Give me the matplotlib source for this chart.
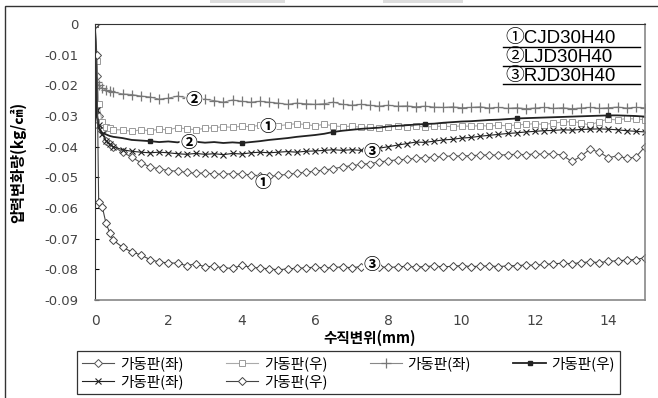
import matplotlib
matplotlib.use("Agg")
import matplotlib.pyplot as plt
from matplotlib.patches import Rectangle
from matplotlib.lines import Line2D

plt.rcParams['font.family'] = ['Noto Sans CJK KR', 'DejaVu Sans']

# ---- data ----
x_mm = [0, 0.05, 0.1, 0.2, 0.3, 0.4, 0.5, 0.75, 1.0, 1.25, 1.5, 1.75, 2.0, 2.25, 2.5, 2.75,
        3.0, 3.25, 3.5, 3.75, 4.0, 4.25, 4.5, 4.75, 5.0, 5.25, 5.5, 5.75, 6.0, 6.25, 6.5, 6.75,
        7.0, 7.25, 7.5, 7.75, 8.0, 8.25, 8.5, 8.75, 9.0, 9.25, 9.5, 9.75, 10.0, 10.25, 10.5, 10.75,
        11.0, 11.25, 11.5, 11.75, 12.0, 12.25, 12.5, 12.75, 13.0, 13.25, 13.5, 13.75, 14.0, 14.25,
        14.5, 14.75, 15.0]

# ① CJD30H40 가동판(좌)
c_left = [0, -0.017, -0.030, -0.035, -0.038, -0.039, -0.040, -0.0418, -0.0434, -0.0452, -0.0466,
          -0.0472, -0.0478, -0.0480, -0.0484, -0.0487, -0.0486, -0.0489, -0.0490, -0.0488, -0.0490,
          -0.0492, -0.0495, -0.0497, -0.0494, -0.0490, -0.0487, -0.0483, -0.0480, -0.0476, -0.0472,
          -0.0466, -0.0462, -0.0458, -0.0455, -0.0450, -0.0446, -0.0443, -0.0441, -0.0438, -0.0436,
          -0.0434, -0.0432, -0.0430, -0.0431, -0.0429, -0.0428, -0.0427, -0.0428, -0.0426, -0.0425,
          -0.0426, -0.0424, -0.0425, -0.0423, -0.0428, -0.0448, -0.0432, -0.0408, -0.0418, -0.0436,
          -0.0430, -0.0438, -0.0434, -0.0400]
# ① CJD30H40 가동판(우)
c_right = [0, -0.012, -0.026, -0.032, -0.0335, -0.0340, -0.0345, -0.0345, -0.0350, -0.0345, -0.0348,
           -0.0343, -0.0345, -0.0338, -0.0342, -0.0345, -0.0340, -0.0338, -0.0335, -0.0337, -0.0333,
           -0.0335, -0.0330, -0.0327, -0.0332, -0.0328, -0.0325, -0.0328, -0.0332, -0.0327, -0.0332,
           -0.0335, -0.0333, -0.0337, -0.0335, -0.0338, -0.0336, -0.0333, -0.0335, -0.0333, -0.0336,
           -0.0334, -0.0333, -0.0335, -0.0332, -0.0334, -0.0331, -0.0333, -0.0330, -0.0332, -0.0329,
           -0.0327, -0.0325, -0.0328, -0.0323, -0.0320, -0.0318, -0.0322, -0.0330, -0.0318, -0.0310,
           -0.0313, -0.0308, -0.0310, -0.0312]
# ② LJD30H40 가동판(좌)
l_left = [0, -0.019, -0.020, -0.021, -0.0215, -0.0220, -0.0222, -0.0228, -0.0230, -0.0235, -0.0238,
          -0.0245, -0.0242, -0.0235, -0.0240, -0.0248, -0.0245, -0.0250, -0.0255, -0.0248, -0.0252,
          -0.0255, -0.0252, -0.0255, -0.0258, -0.0262, -0.0258, -0.0260, -0.0262, -0.0260, -0.0255,
          -0.0262, -0.0265, -0.0262, -0.0265, -0.0268, -0.0265, -0.0268, -0.0267, -0.0270, -0.0268,
          -0.0271, -0.0272, -0.0270, -0.0273, -0.0272, -0.0270, -0.0274, -0.0272, -0.0275, -0.0273,
          -0.0276, -0.0274, -0.0272, -0.0275, -0.0273, -0.0276, -0.0274, -0.0272, -0.0275, -0.0273,
          -0.0271, -0.0274, -0.0272, -0.0273]
# ② LJD30H40 가동판(우)
l_right = [0, -0.030, -0.034, -0.0355, -0.0360, -0.0365, -0.0368, -0.0372, -0.0378, -0.0380, -0.0382,
           -0.0385, -0.0383, -0.0386, -0.0380, -0.0384, -0.0387, -0.0385, -0.0388, -0.0386, -0.0388,
           -0.0385, -0.0382, -0.0378, -0.0375, -0.0372, -0.0368, -0.0365, -0.0362, -0.0358, -0.0352,
           -0.0348, -0.0345, -0.0342, -0.0340, -0.0338, -0.0334, -0.0332, -0.0330, -0.0328, -0.0326,
           -0.0325, -0.0322, -0.0320, -0.0318, -0.0317, -0.0315, -0.0313, -0.0312, -0.0310, -0.0308,
           -0.0307, -0.0306, -0.0305, -0.0304, -0.0303, -0.0302, -0.0301, -0.0300, -0.0299, -0.0298,
           -0.0298, -0.0299, -0.0300, -0.0302]
# ③ RJD30H40 가동판(좌)
r_left = [0, -0.028, -0.033, -0.036, -0.038, -0.0392, -0.0400, -0.0410, -0.0415, -0.0418, -0.0420,
          -0.0418, -0.0420, -0.0423, -0.0425, -0.0422, -0.0425, -0.0423, -0.0426, -0.0422, -0.0424,
          -0.0420, -0.0418, -0.0420, -0.0418, -0.0416, -0.0418, -0.0415, -0.0414, -0.0412, -0.0410,
          -0.0412, -0.0410, -0.0412, -0.0410, -0.0405, -0.0400, -0.0395, -0.0390, -0.0385, -0.0386,
          -0.0382, -0.0378, -0.0376, -0.0372, -0.0370, -0.0366, -0.0363, -0.0360, -0.0357, -0.0355,
          -0.0352, -0.0350, -0.0348, -0.0347, -0.0345, -0.0346, -0.0344, -0.0343, -0.0342, -0.0343,
          -0.0345, -0.0348, -0.0350, -0.0352]
# ③ RJD30H40 가동판(우)
r_right = [0, -0.010, -0.058, -0.0597, -0.0650, -0.0680, -0.0705, -0.0728, -0.0743, -0.0753, -0.0768,
           -0.0776, -0.0779, -0.0780, -0.0788, -0.0782, -0.0792, -0.0790, -0.0795, -0.0797, -0.0787,
           -0.0793, -0.0796, -0.0798, -0.0802, -0.0798, -0.0797, -0.0795, -0.0793, -0.0796, -0.0794,
           -0.0792, -0.0795, -0.0791, -0.0793, -0.0791, -0.0794, -0.0792, -0.0790, -0.0793, -0.0791,
           -0.0789, -0.0792, -0.0790, -0.0788, -0.0791, -0.0790, -0.0789, -0.0791, -0.0789, -0.0788,
           -0.0786, -0.0787, -0.0784, -0.0782, -0.0780, -0.0782, -0.0778, -0.0776, -0.0778, -0.0774,
           -0.0772, -0.0770, -0.0768, -0.0762]

legend_names = ['가동판(좌)', '가동판(우)', '가동판(좌)', '가동판(우)', '가동판(좌)', '가동판(우)']
specimens = ['①CJD30H40', '②LJD30H40', '③RJD30H40']

# circled labels next to curves: (text, x, y)
curve_labels = [('②', 2.7, -0.0248), ('①', 4.72, -0.0336), ('②', 2.55, -0.0388),
                ('③', 7.55, -0.0417), ('①', 4.58, -0.0518), ('③', 7.55, -0.0785)]

# ---- figure ----
W, H = 658, 398
fig = plt.figure(figsize=(W / 100, H / 100), dpi=100)
ax = fig.add_axes([95 / W, 1 - 300 / H, 550 / W, 276 / H])

h1, = ax.plot(x_mm, c_left, color='#555555', lw=0.8, marker='D', ms=4.2, mfc='white',
              mec='#555555', mew=0.7, label=legend_names[0])
h2, = ax.plot(x_mm, c_right, color='#aaaaaa', lw=0.8, marker='s', ms=4.2, mfc='white',
              mec='#999999', mew=0.7, label=legend_names[1])
h3, = ax.plot(x_mm, l_left, color='#888888', lw=0.8, marker='+', ms=7, mec='#777777',
              mew=0.9, label=legend_names[2])
h4, = ax.plot(x_mm, l_right, color='#222222', lw=1.3, marker='s', ms=2.5, markevery=10,
              label=legend_names[3])
h5, = ax.plot(x_mm, r_left, color='#222222', lw=0.8, marker='x', ms=4, mew=0.8,
              label=legend_names[4])
h6, = ax.plot(x_mm, r_right, color='#444444', lw=0.8, marker='D', ms=4.2, mfc='white',
              mec='#444444', mew=0.7, label=legend_names[5])

for txt, lx, ly in curve_labels:
    ax.text(lx, ly, txt, fontsize=12, fontweight='bold', ha='center', va='center', zorder=10,
            bbox=dict(boxstyle='circle,pad=0.0', fc='white', ec='none'))

ax.set_xlim(0, 15)
ax.set_ylim(-0.09, 0)
ax.set_xticks([0, 2, 4, 6, 8, 10, 12, 14])
ax.set_yticks([-0.09, -0.08, -0.07, -0.06, -0.05, -0.04, -0.03, -0.02, -0.01, 0])
ax.set_yticklabels(['-0.09', '-0.08', '-0.07', '-0.06', '-0.05', '-0.04', '-0.03', '-0.02',
                    '-0.01', '0'])
ax.tick_params(axis='y', direction='in', length=3, pad=12, labelsize=9.5, labelcolor='#444444')
ax.tick_params(axis='x', length=0, pad=10, labelsize=10, labelcolor='#444444')
for lab in ax.get_xticklabels() + ax.get_yticklabels():
    lab.set_family(['DejaVu Sans'])
for side in ['left', 'top']:
    ax.spines[side].set_color('#333333')
for side in ['right', 'bottom']:
    ax.spines[side].set_color('#888888')
    ax.spines[side].set_linewidth(1.2)

ax.set_ylabel('압력변화량(kg/㎠)', fontsize=11, fontweight='bold')
ax.yaxis.set_label_coords(-(95 - 26) / 550, 0.5)
ax.set_xlabel('수직변위(mm)', fontsize=10.5, fontweight='bold')
ax.xaxis.set_label_coords(0.5, -(330 - 300) / 276)

# row-major order in a 4-column legend
leg = ax.legend([h1, h5, h2, h6, h3, h4],
                [legend_names[0], legend_names[4], legend_names[1], legend_names[5],
                 legend_names[2], legend_names[3]],
                ncol=4, loc='center', bbox_to_anchor=(77 / W, 1 - 396 / H, 543 / W, 47 / H),
                bbox_transform=fig.transFigure, mode='expand', fontsize=10.5, frameon=True,
                fancybox=False, edgecolor='black', handlelength=2.2, handletextpad=0.4,
                borderpad=0.35, labelspacing=0.2, borderaxespad=0)
leg.get_frame().set_linewidth(0.9)

# specimen key, top right
for i, name in enumerate(specimens):
    fig.text(505 / W, 1 - (43.5 + 18.5 * i) / H, name, fontsize=13.5, ha='left', va='baseline',
             family=['Liberation Sans', 'Noto Sans CJK KR'])
    fig.add_artist(Line2D([503 / W, 640 / W], [1 - (47 + 18.5 * i) / H] * 2, color='black', lw=1))

# outer frame and scan marks
fig.add_artist(Rectangle((5 / W, -0.05), 1.1, 1.05 - 6 / H, transform=fig.transFigure,
                         fill=False, ec='#333333', lw=1))
fig.add_artist(Rectangle((210 / W, 1 - 3 / H), 75 / W, 3 / H, transform=fig.transFigure,
                         fc='#dddddd', ec='none'))
fig.add_artist(Rectangle((383 / W, 1 - 3 / H), 80 / W, 3 / H, transform=fig.transFigure,
                         fc='#dddddd', ec='none'))

fig.savefig('out.png', dpi=100)
